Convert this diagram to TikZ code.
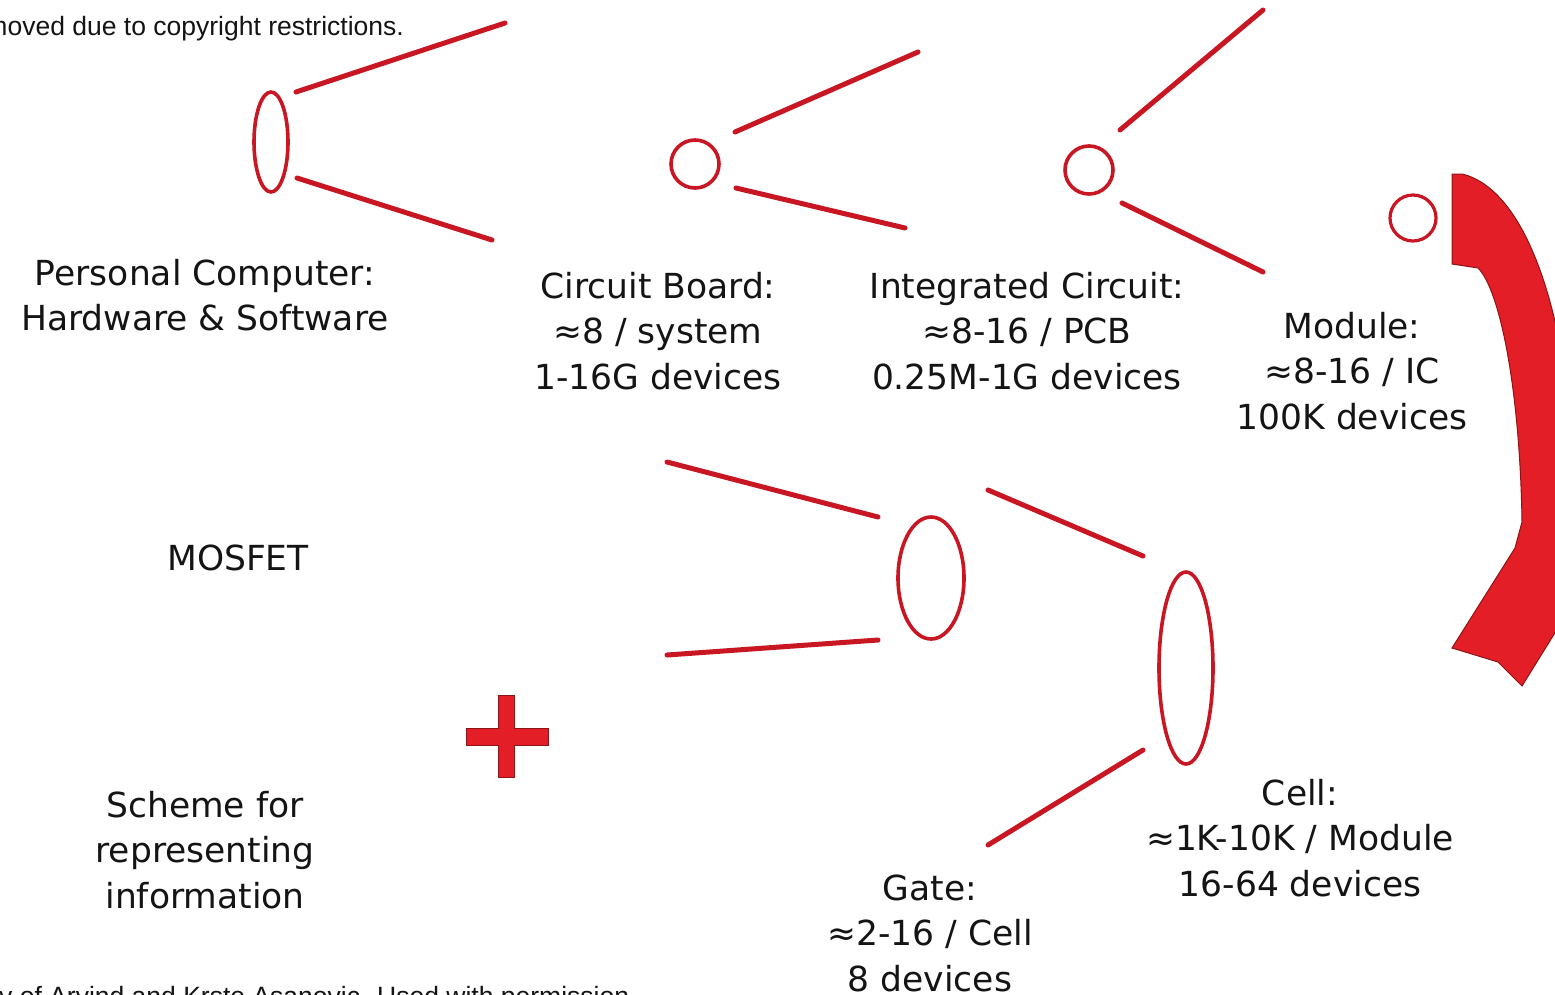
\documentclass[tikz,border=0pt]{standalone}
\usepackage{fontspec}
\setmainfont{DejaVu Sans}
\newfontfamily\arialf{Liberation Sans}
\definecolor{linered}{RGB}{200,22,34}
\definecolor{arrowred}{RGB}{228,30,38}
\definecolor{arrowedge}{RGB}{140,20,22}
\definecolor{txt}{RGB}{20,20,20}
\begin{document}
\begin{tikzpicture}[x=1pt,y=-1pt,
  lbl/.style={align=center,text=txt,font=\fontsize{34.5}{45.5}\selectfont,inner sep=0pt},
  ray/.style={draw=linered,line width=5pt,line cap=round},
  cred/.style={text=txt,font=\arialf\fontsize{26.5}{30}\selectfont,inner sep=0pt}]
\useasboundingbox (0,0) rectangle (1555,994);
\clip (0,0) rectangle (1555,994);
\fill[white] (0,0) rectangle (1555,994);

% credit texts
\node[cred,anchor=base east] (credtop) at (404,35) {moved due to copyright restrictions.};
\node[cred,anchor=base west] (credbot) at (-1,1005) {y of Arvind and Krste Asanovic. Used with permission.};

% ellipses / circles
\draw[linered,line width=3.6pt] (271,142) ellipse [x radius=17, y radius=50];
\coordinate (pc) at (271,142);
\draw[linered,line width=3.6pt] (695,164) circle [radius=24];
\coordinate (cb) at (695,164);
\draw[linered,line width=3.6pt] (1089,170) circle [radius=24];
\coordinate (ic) at (1089,170);
\draw[linered,line width=3.2pt] (1413,218) circle [radius=23];
\coordinate (mod) at (1413,218);
\draw[linered,line width=3.6pt] (931,578) ellipse [x radius=33, y radius=61];
\coordinate (gate) at (931,578);
\draw[linered,line width=3.6pt] (1186,668) ellipse [x radius=27, y radius=96];
\coordinate (cell) at (1186,668);

% rays
\coordinate (pcA) at (296,92);   \coordinate (pcB) at (505,23);
\coordinate (pcC) at (297,178);  \coordinate (pcD) at (492,240);
\draw[ray] (pcA) -- (pcB);
\draw[ray] (pcC) -- (pcD);
\coordinate (cbA) at (735,132);  \coordinate (cbB) at (918,52);
\coordinate (cbC) at (736,188);  \coordinate (cbD) at (905,228);
\draw[ray] (cbA) -- (cbB);
\draw[ray] (cbC) -- (cbD);
\coordinate (icA) at (1120,130); \coordinate (icB) at (1263,10);
\coordinate (icC) at (1122,203); \coordinate (icD) at (1263,272);
\draw[ray] (icA) -- (icB);
\draw[ray] (icC) -- (icD);
\coordinate (gA) at (667,462);   \coordinate (gB) at (878,517);
\coordinate (gC) at (667,655);   \coordinate (gD) at (878,640);
\draw[ray] (gA) -- (gB);
\draw[ray] (gC) -- (gD);
\coordinate (cA) at (988,490);   \coordinate (cB) at (1143,556);
\coordinate (cC) at (988,845);   \coordinate (cD) at (1143,750);
\draw[ray] (cA) -- (cB);
\draw[ray] (cC) -- (cD);

% plus sign
\filldraw[fill=arrowred,draw=arrowedge,line width=1pt]
  (498,695) -- (514,695) -- (514,728) -- (548,728) -- (548,745) -- (514,745)
  -- (514,777) -- (498,777) -- (498,745) -- (466,745) -- (466,728) -- (498,728) -- cycle;

% big curved arrow
\filldraw[fill=arrowred,draw=arrowedge,line width=1pt]
  (1452,174) -- (1462,174)
  .. controls (1530,190) and (1575,330) .. (1575,520)
  -- (1600,560) -- (1522,686) -- (1498,662) -- (1452,648) -- (1515,548)
  -- (1522,522)
  .. controls (1520,390) and (1500,290) .. (1478,268)
  -- (1452,264) -- cycle;

% labels
\node[lbl] (pcl) at (205,295) {Personal Computer:\\Hardware \& Software};
\node[lbl] (cbl) at (658,331) {Circuit Board:\\≈8 / system\\1-16G devices};
\node[lbl] (icl) at (1027,331) {Integrated Circuit:\\≈8-16 / PCB\\0.25M-1G devices};
\node[lbl] (modl) at (1352,371) {Module:\\≈8-16 / IC\\100K devices};
\node[lbl] (mos) at (238,558) {MOSFET};
\node[lbl] (sch) at (205,850) {Scheme for\\representing\\information};
\node[lbl] (celll) at (1300,838) {Cell:\\≈1K-10K / Module\\16-64 devices};
\node[lbl] (gatel) at (930,933) {Gate:\\≈2-16 / Cell\\8 devices};
\end{tikzpicture}
\end{document}
